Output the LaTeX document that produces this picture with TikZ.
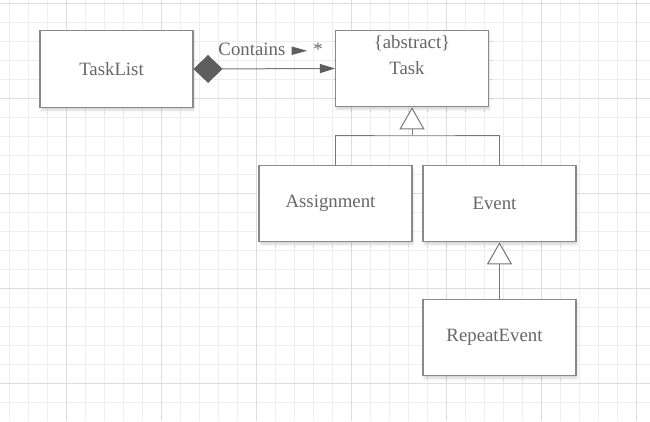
\documentclass[tikz,border=0pt]{standalone}
\usepackage{fontspec}
\setmainfont{Liberation Serif}
\usepackage{tikz}
\usepackage{xcolor}
\usetikzlibrary{arrows.meta,positioning,shapes,calc,shadows.blur}
\definecolor{gridminor}{HTML}{EEEEEE}
\definecolor{gridmajor}{HTML}{DDDDDD}
\definecolor{boxline}{HTML}{8A8A8A}
\definecolor{ink}{HTML}{666666}
\definecolor{connline}{HTML}{777777}
\definecolor{darkfill}{HTML}{5E5E5E}
\tikzset{
  classbox/.style={draw=boxline,fill=white,line width=1.1pt,
                   minimum width=153pt,minimum height=76.5pt,
                   text=ink,font=\fontsize{18.8}{22}\selectfont,
                   execute at begin node=\hspace*{-10pt},
                   blur shadow={shadow xshift=1pt,shadow yshift=-3pt,
                                shadow opacity=15,shadow blur steps=6}},
  lbl/.style={text=ink,font=\fontsize{18.8}{22}\selectfont,inner sep=0pt},
  inharr/.style={-{Triangle[open,fill=white,length=22pt,width=25pt]},
                 line width=1pt,draw=connline},
  plainline/.style={line width=1pt,draw=connline},
  aggarr/.style={{Diamond[length=29pt,width=28pt,color=darkfill]}-{Triangle[length=15pt,width=9pt,color=darkfill]},
                 line width=1pt,draw=connline}
}

\begin{document}
\begin{tikzpicture}[x=1pt,y=-1pt]
    \useasboundingbox (0,0) rectangle (650,421);
    % grid paper
    \foreach \i in {0,...,33}
      \draw[gridminor,line width=0.8pt] ({9.7+19*\i},0) -- ++(0,421);
    \foreach \i in {0,...,21}
      \draw[gridminor,line width=0.8pt] (0,{3.3+19*\i}) -- ++(650,0);
    \foreach \x in {66.7,161.7,...,636.7}
      \draw[gridmajor,line width=0.8pt] (\x,0) -- ++(0,421);
    \foreach \y in {3.3,98.3,...,383.3}
      \draw[gridmajor,line width=0.8pt] (0,\y) -- ++(650,0);
    % classes
    \node[classbox] (tasklist) at (116.5,69) {TaskList};
    \node[classbox] (task) at (412,68.5) {Task};
    \node[lbl] (abstract) at ([yshift=-14pt]task.north) {\{abstract\}};
    \node[classbox] (assignment) at (335.5,203.5) {Assignment};
    \node[classbox] (event) at (499.5,203.5) {Event};
    \node[classbox] (repeatevent) at (499.5,337.5) {RepeatEvent};
    % aggregation
    \draw[aggarr] (tasklist.east) -- (task.west)
      node[lbl,pos=0.545,above=13pt] (contains) {Contains\,\,\tikz[baseline=0pt]\fill[darkfill] (0pt,0.3pt) -- (15.5pt,4.6pt) -- (0pt,8.9pt) -- cycle;\,\,*};
    % generalisation
    \coordinate (split) at (412,135);
    \draw[inharr] (split) -- (task.south);
    \draw[plainline] (assignment.north) |- (split) -| (event.north);
    \draw[inharr] (repeatevent.north) -- (event.south);
  \end{tikzpicture}
\end{document}
